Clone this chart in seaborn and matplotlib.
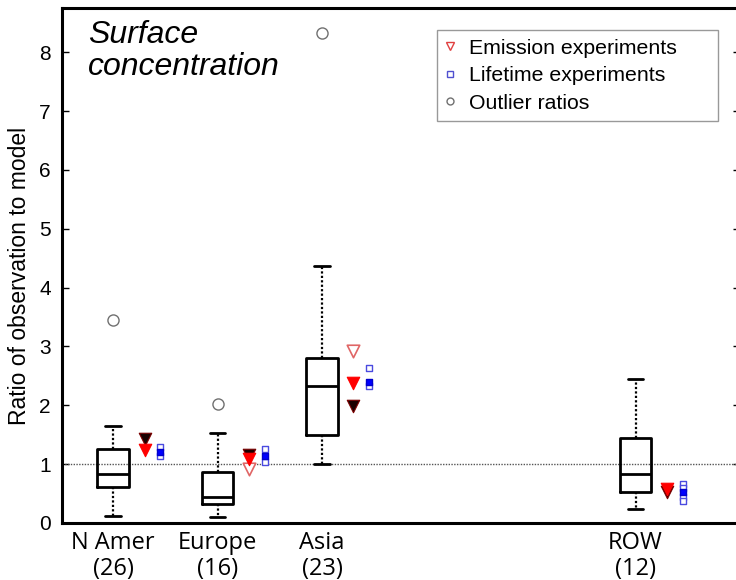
import numpy as np
import pandas as pd
import matplotlib
matplotlib.use("Agg")
import matplotlib.pyplot as plt
import seaborn as sns

# Regions, station counts and category positions on the x axis
regions = ["N Amer", "Europe", "Asia", "ROW"]
counts = [26, 16, 23, 12]
positions = [1, 2, 3, 6]

# Box statistics of observation/model ratios per region
whisker_low = [0.12, 0.10, 1.00, 0.23]
quart1 = [0.61, 0.33, 1.49, 0.53]
median = [0.84, 0.45, 2.33, 0.83]
quart3 = [1.25, 0.87, 2.80, 1.44]
whisker_high = [1.65, 1.53, 4.36, 2.44]

# Outlier ratios (region, value)
outlier_region = ["N Amer", "Europe", "Asia"]
outlier_value = [3.45, 2.03, 8.33]

# Emission experiments
emis_open_region = ["Europe", "Asia"]
emis_open_value = [0.92, 2.93]
emis_red_region = ["N Amer", "Europe", "Asia", "ROW"]
emis_red_value = [1.24, 1.08, 2.38, 0.57]
emis_dark_region = ["N Amer", "Europe", "Asia", "ROW"]
emis_dark_value = [1.42, 1.15, 1.99, 0.52]

# Lifetime experiments
life_open_region = ["N Amer", "N Amer", "Europe", "Europe", "Asia", "Asia",
                    "ROW", "ROW", "ROW", "ROW"]
life_open_value = [1.29, 1.13, 1.26, 1.04, 2.63, 2.32,
                   0.66, 0.59, 0.45, 0.37]
life_fill_region = ["N Amer", "Europe", "Asia", "ROW"]
life_fill_value = [1.21, 1.14, 2.40, 0.52]

sns.set_style("white")
plt.rcParams["font.family"] = ["Liberation Sans", "DejaVu Sans"]
plt.rcParams.update({"text.color": "black", "axes.labelcolor": "black",
                     "xtick.color": "black", "ytick.color": "black"})

fig = plt.figure(figsize=(7.36, 5.8), dpi=100)
ax = fig.add_axes([0.0842, 0.0983, 0.9212, 0.8877])

pos_of = dict(zip(regions, positions))
emis_dx = 0.30
life_dx = 0.45

# Boxes from the summary statistics
stats = [dict(med=m, q1=a, q3=b, whislo=lo, whishi=hi, label=r)
         for r, lo, a, m, b, hi in zip(regions, whisker_low, quart1, median,
                                      quart3, whisker_high)]
ax.bxp(stats, positions=positions, widths=0.30, capwidths=0.15,
       showfliers=False, patch_artist=False,
       boxprops=dict(color="black", lw=2.0),
       medianprops=dict(color="black", lw=2.0),
       whiskerprops=dict(color="black", lw=1.6, linestyle=(0, (1, 1))),
       capprops=dict(color="black", lw=2.0), zorder=3)

# Reference line at a ratio of one
ax.axhline(1.0, color="#555555", lw=1.0, linestyle=(0, (1, 1)), zorder=1)


def frame(reg, val, dx):
    return pd.DataFrame({"x": [pos_of[r] + dx for r in reg], "y": val})


sns.scatterplot(data=frame(outlier_region, outlier_value, 0.0), x="x", y="y",
                ax=ax, marker="o", s=8.0 ** 2, facecolor="white",
                edgecolor="#707070", linewidth=1.0, zorder=4)
sns.scatterplot(data=frame(emis_open_region, emis_open_value, emis_dx), x="x",
                y="y", ax=ax, marker="v", s=9.0 ** 2, facecolor="white",
                edgecolor="#e06666", linewidth=1.2, zorder=4)
sns.scatterplot(data=frame(emis_dark_region, emis_dark_value, emis_dx), x="x",
                y="y", ax=ax, marker="v", s=9.0 ** 2, facecolor="#1a0000",
                edgecolor="#7a0000", linewidth=0.8, zorder=5)
sns.scatterplot(data=frame(emis_red_region, emis_red_value, emis_dx), x="x",
                y="y", ax=ax, marker="v", s=9.0 ** 2, facecolor="#ff0000",
                edgecolor="#ff0000", linewidth=0.8, zorder=5)
sns.scatterplot(data=frame(life_open_region, life_open_value, life_dx), x="x",
                y="y", ax=ax, marker="s", s=5.0 ** 2, facecolor="white",
                edgecolor="#4a4ae0", linewidth=1.0, zorder=4)
sns.scatterplot(data=frame(life_fill_region, life_fill_value, life_dx), x="x",
                y="y", ax=ax, marker="s", s=5.0 ** 2, facecolor="#0000ff",
                edgecolor="#0000cc", linewidth=1.0, zorder=5)

# Legend entries
handles = [
    plt.Line2D([], [], ls="none", marker="v", ms=6, mfc="white",
               mec="#e04040", mew=1.0, label="Emission experiments"),
    plt.Line2D([], [], ls="none", marker="s", ms=5, mfc="white",
               mec="#5050d0", mew=1.0, label="Lifetime experiments"),
    plt.Line2D([], [], ls="none", marker="o", ms=5, mfc="white",
               mec="#707070", mew=1.0, label="Outlier ratios"),
]
leg = ax.legend(handles=handles, loc="upper left", mode="expand",
                bbox_to_anchor=(0.553, 0.786, 0.4146, 0.171), borderaxespad=0,
                fontsize=15.3, frameon=True, fancybox=False,
                labelspacing=0.4, handlelength=0.4, handletextpad=0.7,
                borderpad=0.4)
leg.get_frame().set_edgecolor("#808080")
leg.get_frame().set_linewidth(1.0)

ax.text(0.038, 0.977, "Surface\nconcentration", transform=ax.transAxes,
        ha="left", va="top", fontsize=23, style="italic", linespacing=1.1)

ax.set_xlim(0.51, 7.0)
ax.set_ylim(0, 8.75)
ax.set_yticks(range(0, 9))
ax.set_xticks(positions)
ax.set_xticklabels([f"{r}\n({n})" for r, n in zip(regions, counts)],
                   fontsize=17, family="Open Sans", linespacing=1.1)
ax.set_xlabel("")
ax.set_ylabel("Ratio of observation to model", fontsize=16.5)
ax.yaxis.set_label_coords(-0.045, 0.48)
ax.tick_params(axis="y", direction="in", length=5, width=1, left=True,
               right=True, labelsize=15, pad=8)
ax.tick_params(axis="x", length=0, pad=6)

for side in ["left", "bottom", "top", "right"]:
    ax.spines[side].set_color("black")
    ax.spines[side].set_linewidth(2.2)

fig.savefig("out.png", dpi=100)
